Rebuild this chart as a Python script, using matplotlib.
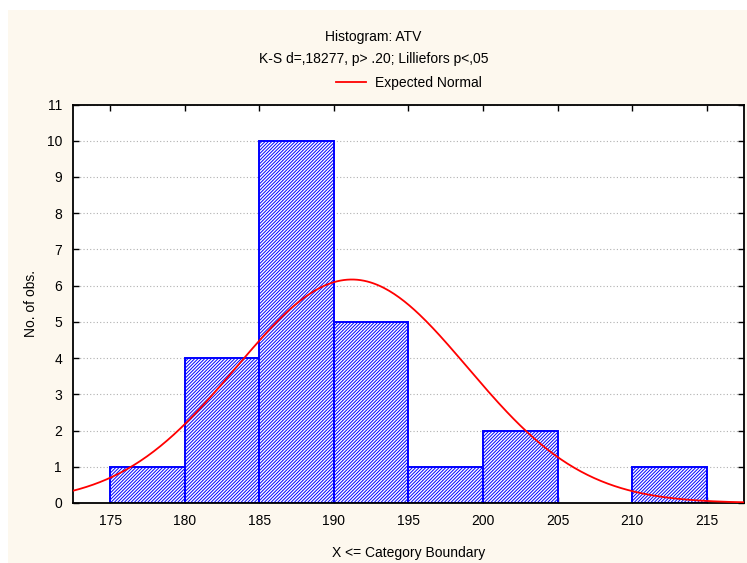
import numpy as np
import matplotlib
matplotlib.use("Agg")
import matplotlib.pyplot as plt
from matplotlib.patches import Rectangle

plt.rcParams['font.family'] = ['Liberation Sans', 'DejaVu Sans']
plt.rcParams['hatch.linewidth'] = 0.7

# histogram data
bin_left = [175, 180, 185, 190, 195, 200, 205, 210]
counts = [1, 4, 10, 5, 1, 2, 0, 1]
bin_width = 5
x_ticks = [175, 180, 185, 190, 195, 200, 205, 210, 215]
y_ticks = list(range(0, 12))

# expected normal parameters (fitted to the red curve)
n_obs = sum(counts)
mu = 191.2
sigma = 7.76

fig = plt.figure(figsize=(7.47, 5.63), dpi=100)
fig.patch.set_facecolor('white')
fig.patches.append(Rectangle((8 / 747, 0), 1, 1 - 10 / 563, transform=fig.transFigure,
                             facecolor='#fdf8ee', edgecolor='none', zorder=-10))

ax = fig.add_axes([73 / 747, 60 / 563, 671 / 747, 398.5 / 563])
ax.set_facecolor('white')

for xl, c in zip(bin_left, counts):
    if c > 0:
        ax.bar(xl, c, width=bin_width, align='edge', facecolor='white',
               edgecolor='#0000ff', hatch='//////////', linewidth=1.4, zorder=2)

xs = np.linspace(172.5, 217.5, 400)
ys = n_obs * bin_width / (sigma * np.sqrt(2 * np.pi)) * np.exp(-0.5 * ((xs - mu) / sigma) ** 2)
ax.plot(xs, ys, color='#ff0000', linewidth=1.3, zorder=3, label='Expected Normal')

ax.set_xlim(172.5, 217.5)
ax.set_ylim(0, 11)
ax.set_xticks(x_ticks)
ax.set_yticks(y_ticks)
ax.tick_params(direction='in', length=4, width=1, labelsize=10, pad=8,
               top=True, right=True, bottom=True, left=True)
ax.yaxis.grid(True, linestyle=(0, (1, 2)), color='#b0b0b0', linewidth=0.8, zorder=0)
ax.set_axisbelow(True)
for sp in ax.spines.values():
    sp.set_linewidth(1.3)

ax.set_xlabel('X <= Category Boundary', fontsize=10, labelpad=13)
ax.set_ylabel('No. of obs.', fontsize=10, labelpad=6)

fig.text(0.5, 1 - 37 / 563, 'Histogram: ATV', ha='center', va='center', fontsize=10)
fig.text(0.5, 1 - 59 / 563, 'K-S d=,18277, p> .20; Lilliefors p<,05', ha='center', va='center', fontsize=10)
leg = ax.legend(loc='center', bbox_to_anchor=(0.5, (503 - 83) / 398.5), frameon=False,
                fontsize=10, handlelength=2.2, handletextpad=0.6)

fig.savefig('out.png', dpi=100)
